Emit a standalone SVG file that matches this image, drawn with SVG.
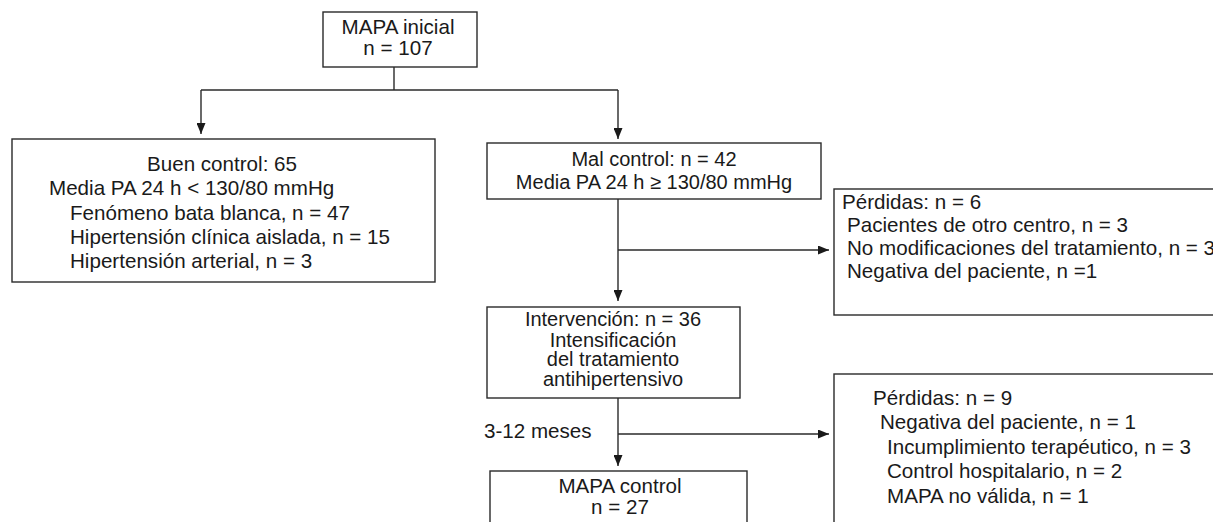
<svg xmlns="http://www.w3.org/2000/svg" width="1213" height="522" viewBox="0 0 1213 522">
<style>
.box{fill:#fff;stroke:#2a2a2a;stroke-width:1.4}
.ln{fill:none;stroke:#2a2a2a;stroke-width:1.4}
text{font-family:"Liberation Sans",Arial,sans-serif;font-size:20.6px;fill:#1a1a1a}
.c{text-anchor:middle}
.m{font-size:20px}
</style>
<defs>
<marker id="ah" viewBox="0 0 10 10" refX="10" refY="5" markerWidth="11" markerHeight="9" markerUnits="userSpaceOnUse" orient="auto" preserveAspectRatio="none">
<path d="M0,0 L10,5 L0,10 Z" fill="#1a1a1a"/>
</marker>
</defs>
<rect width="1213" height="522" fill="#fff"/>
<g id="connectors">
<path class="ln" d="M394,67 V90"/>
<path class="ln" d="M201,90 H618"/>
<path class="ln" d="M201,90 V134" marker-end="url(#ah)"/>
<path class="ln" d="M618,90 V139" marker-end="url(#ah)"/>
<path class="ln" d="M618,199 V301" marker-end="url(#ah)"/>
<path class="ln" d="M618,250 H829" marker-end="url(#ah)"/>
<path class="ln" d="M618,398 V466" marker-end="url(#ah)"/>
<path class="ln" d="M618,434 H829" marker-end="url(#ah)"/>
<text x="484" y="438">3-12 meses</text>
</g>
<g id="mapa-inicial">
<rect class="box" x="323" y="12" width="154" height="55"/>
<text class="c" x="398" y="34">MAPA inicial</text>
<text class="c" x="398" y="55">n = 107</text>
</g>
<g id="buen-control">
<rect class="box" x="12" y="139" width="423" height="143"/>
<text class="c" x="222" y="171">Buen control: 65</text>
<text x="49" y="195">Media PA 24 h &lt; 130/80 mmHg</text>
<text x="70" y="220">Fenómeno bata blanca, n = 47</text>
<text x="70" y="244">Hipertensión clínica aislada, n = 15</text>
<text x="70" y="268">Hipertensión arterial, n = 3</text>
</g>
<g id="mal-control">
<rect class="box" x="487" y="143" width="334" height="56"/>
<text class="c m" x="654" y="166">Mal control: n = 42</text>
<text class="c m" x="654" y="189">Media PA 24 h ≥ 130/80 mmHg</text>
</g>
<g id="perdidas-6">
<rect class="box" x="834" y="189" width="400" height="126"/>
<text x="842" y="209">Pérdidas: n = 6</text>
<text x="847" y="232">Pacientes de otro centro, n = 3</text>
<text x="847" y="255">No modificaciones del tratamiento, n = 3</text>
<text x="847" y="278">Negativa del paciente, n =1</text>
</g>
<g id="intervencion">
<rect class="box" x="487" y="307" width="253" height="91"/>
<text class="c m" x="613" y="326">Intervención: n = 36</text>
<text class="c m" x="613" y="347">Intensificación</text>
<text class="c m" x="613" y="366">del tratamiento</text>
<text class="c m" x="613" y="386">antihipertensivo</text>
</g>
<g id="perdidas-9">
<rect class="box" x="834" y="374" width="400" height="160"/>
<text x="873" y="405">Pérdidas: n = 9</text>
<text x="880" y="429">Negativa del paciente, n = 1</text>
<text x="887" y="454">Incumplimiento terapéutico, n = 3</text>
<text x="887" y="478">Control hospitalario, n = 2</text>
<text x="887" y="503">MAPA no válida, n = 1</text>
</g>
<g id="mapa-control">
<rect class="box" x="490" y="471" width="257" height="70"/>
<text class="c" x="620" y="493">MAPA control</text>
<text class="c" x="620" y="514">n = 27</text>
</g>
</svg>
